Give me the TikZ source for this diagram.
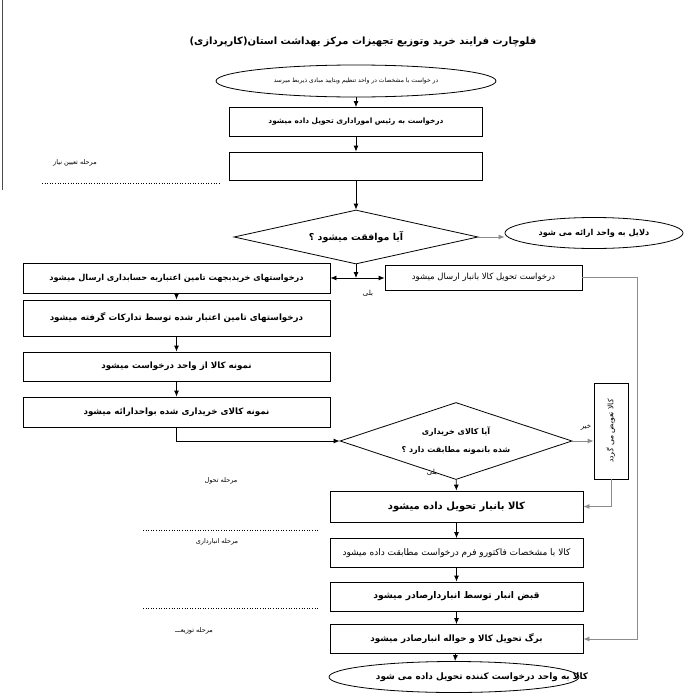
\documentclass[tikz,border=0pt]{standalone}
\usepackage{fontspec}
\usepackage{graphicx}
\usetikzlibrary{shapes.geometric,arrows.meta}
\newfontfamily\farsi[Script=Arabic]{DejaVu Sans}
\TeXXeTstate=1
\newcommand{\fatext}[1]{\beginR #1\endR}
\begin{document}
\begin{tikzpicture}[x=1pt,y=-1pt,line width=0.8pt,
    box/.style={draw,rectangle,inner sep=0pt,minimum width=253pt,minimum height=29pt,
      font=\farsi\bfseries\fontsize{8.7}{10}\selectfont},
    plainbox/.style={box,font=\farsi\fontsize{8.5}{10}\selectfont},
    ask/.style={draw,diamond,inner sep=0pt,font=\farsi\bfseries\fontsize{8}{10}\selectfont},
    term/.style={draw,ellipse,inner sep=0pt,font=\farsi\bfseries\fontsize{8.2}{10}\selectfont},
    lbl/.style={inner sep=0pt,font=\farsi\fontsize{6.5}{8}\selectfont},
    arr/.style={-{Latex[length=6pt,width=5pt]},black},
    garr/.style={-{Latex[length=6pt,width=5pt]},black!45,thick}]
    \useasboundingbox (0,0) rectangle (698,699);

    % titolo
    \node[font=\farsi\bfseries\fontsize{10}{12}\selectfont] (title) at (363,42)
      {\fatext{فلوچارت فرایند خرید وتوزیع تجهیزات مرکز بهداشت استان(کارپردازی)}};

    % fase: determinazione del fabbisogno
    \draw[black!70] (2,0) -- (2,190);
    \node[lbl] (phaseneed) at (75,163) {\fatext{مرحله تعیین نیاز}};
    \draw[dotted,line width=0.6pt] (42,183) -- (220,183);

    % inizio
    \node[term,font=\farsi\fontsize{6}{7}\selectfont,minimum width=280pt,minimum height=32pt] (start) at (356,81)
      {\fatext{در خواست با مشخصات در واحد تنظیم وبتایید مبادی ذیربط میرسد}};
    \node[box,font=\farsi\bfseries\fontsize{7.4}{9}\selectfont] (hand) at (356,122)
      {\fatext{درخواست به رئیس اموراداری تحویل داده میشود}};
    \node[box,minimum height=28pt] (need) at (356,166) {};
    \draw[arr] (start) -- (hand);
    \draw[arr] (hand) -- (need);

    % prima decisione
    \node[ask,aspect=4.5,font=\farsi\bfseries\fontsize{9.5}{11}\selectfont,
      minimum width=244pt,minimum height=54pt] (ok) at (356,237) {\fatext{آیا موافقت میشود ؟}};
    \draw[arr] (need) -- (ok);
    \node[term,minimum width=178pt,minimum height=31pt] (reason) at (594,233) {\fatext{دلایل به واحد ارائه می شود}};
    \draw[garr] (ok.east) -- (ok.east -| reason.west);

    % ramo "si"
    \node[box,font=\farsi\bfseries\fontsize{8.2}{10}\selectfont,minimum width=307pt,minimum height=30pt] (credit) at (176.5,278)
      {\fatext{درخواستهای خریدبجهت تامین اعتباربه حسابداری ارسال میشود}};
    \node[plainbox,minimum width=197pt,minimum height=25pt] (store) at (483.5,277.5)
      {\fatext{درخواست تحویل کالا بانبار ارسال میشود}};
    \coordinate (fork) at (ok.south |- credit.east);
    \draw[arr] (ok.south) -- (fork);
    \draw[{Latex[length=6pt,width=5pt]}-{Latex[length=6pt,width=5pt]}] (credit.east) -- (credit.east -| store.west);
    \node[lbl,font=\farsi\fontsize{7}{8}\selectfont] (yes1) at (368,293) {\fatext{بلی}};

    % colonna sinistra
    \node[box,minimum width=307pt,minimum height=36pt] (supply) at (176.5,318)
      {\fatext{درخواستهای تامین اعتبار شده توسط تداركات گرفته میشود}};
    \node[box,minimum width=307pt] (sample) at (176.5,366.5) {\fatext{نمونه کالا از واحد درخواست میشود}};
    \node[box,minimum width=307pt,minimum height=30pt] (show) at (176.5,412) {\fatext{نمونه کالای خریداری شده بواحدارائه میشود}};
    \draw[arr] (credit) -- (supply);
    \draw[arr] (supply) -- (sample);
    \draw[arr] (sample) -- (show);

    % seconda decisione
    \node[ask,aspect=3,align=center,minimum width=232pt,minimum height=77pt] (match) at (456,441)
      {\fatext{آیا کالای خریداری}\\[8pt]\fatext{شده بانمونه مطابقت دارد ؟}};
    \draw[arr] (show.south) |- (match.west);
    \node[draw,rectangle,inner sep=0pt,minimum width=34pt,minimum height=96pt,
      font=\farsi\fontsize{7.6}{9}\selectfont] (swap) at (611,431)
      {\rotatebox{90}{\fatext{کالا تعویض می گردد}}};
    \draw[garr] (match.east) -- (match.east -| swap.west);
    \node[lbl,font=\farsi\fontsize{7}{8}\selectfont] (no) at (586,427) {\fatext{خیر}};

    % fase: consegna
    \node[lbl] (phasein) at (221,481) {\fatext{مرحله تحول}};
    \draw[dotted,line width=0.6pt] (143,530) -- (318,530);
    \node[lbl] (phasestore) at (217,542) {\fatext{مرحله انبارداری}};
    \draw[dotted,line width=0.6pt] (143,608) -- (318,608);
    \node[lbl] (phaseout) at (194,631) {\fatext{مرحله توزیعـــ}};

    \node[box,font=\farsi\bfseries\fontsize{10}{12}\selectfont,minimum height=31pt] (deliver) at (456.5,506.5)
      {\fatext{کالا  بانبار تحویل داده  میشود}};
    \node[plainbox,font=\farsi\fontsize{9}{10}\selectfont,minimum height=29pt] (check) at (456.5,553)
      {\fatext{کالا  با مشخصات فاکتورو فرم درخواست مطابقت داده میشود}};
    \node[box,font=\farsi\bfseries\fontsize{9.2}{11}\selectfont] (receipt) at (456.5,596.5)
      {\fatext{قبض انبار توسط انباردارصادر میشود}};
    \node[box] (issue) at (456.5,639) {\fatext{برگ تحویل کالا و حواله انبارصادر میشود}};
    \node[draw,ellipse,minimum width=250pt,minimum height=31pt] (done) at (454,677) {};
    \node[font=\farsi\bfseries\fontsize{8.9}{10}\selectfont,inner sep=0pt] (donetext) at (482,677)
      {\fatext{کالا به واحد درخواست کننده تحویل داده می شود}};

    \draw[arr] (match) -- (deliver);
    \node[lbl,font=\farsi\fontsize{7}{8}\selectfont] (yes2) at (432,472) {\fatext{بلی}};
    \draw[arr] (deliver) -- (check);
    \draw[arr] (check) -- (receipt);
    \draw[arr] (receipt) -- (issue);
    \draw[arr] (issue) -- (done);

    % ritorni sul lato destro
    \coordinate (rail) at (637,0);
    \draw[garr] (swap.south) |- (deliver.east);
    \draw[garr] (store.east) -- (store.east -| rail) |- (issue.east);
\end{tikzpicture}
\end{document}
